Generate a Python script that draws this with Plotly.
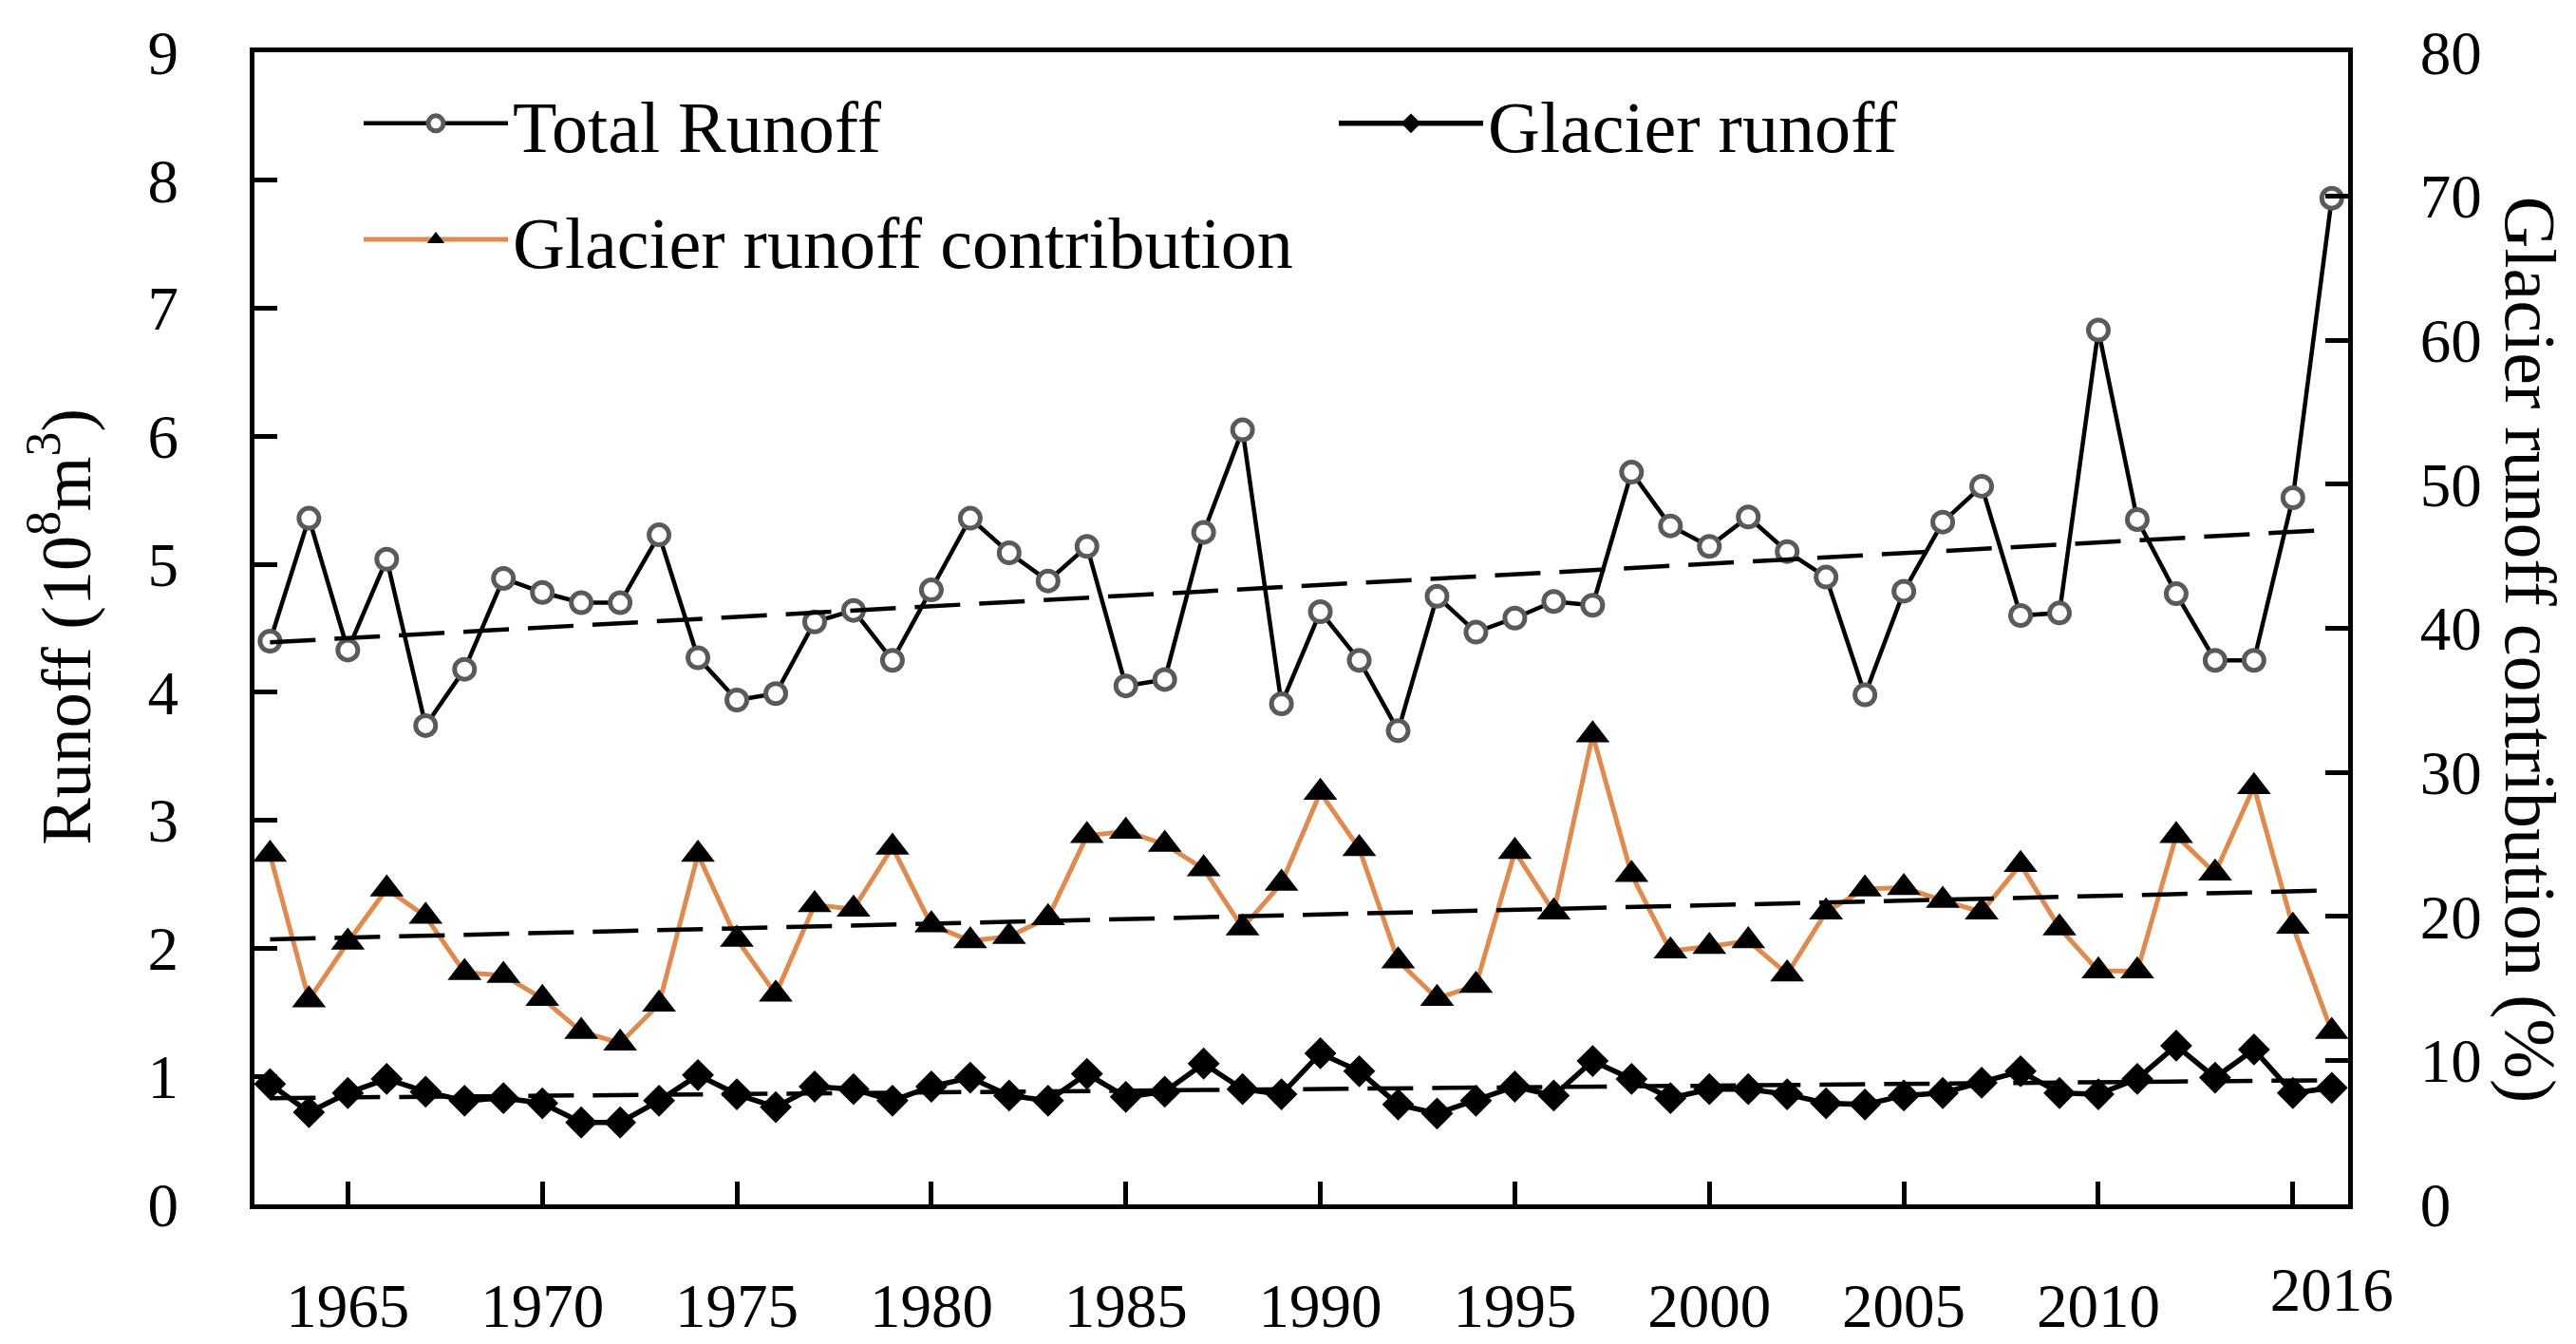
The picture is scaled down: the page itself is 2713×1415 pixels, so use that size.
import plotly.graph_objects as go

# ---------------- data ----------------
years = list(range(1963, 2017))

total_runoff = [4.40, 5.36, 4.33, 5.04, 3.74, 4.18, 4.89, 4.78, 4.70, 4.70,
                5.23, 4.27, 3.94, 3.99, 4.55, 4.64, 4.25, 4.80, 5.36, 5.09,
                4.87, 5.14, 4.05, 4.10, 5.25, 6.05, 3.91, 4.63, 4.25, 3.70,
                4.75, 4.47, 4.58, 4.71, 4.68, 5.72, 5.30, 5.14, 5.37, 5.10,
                4.90, 3.98, 4.79, 5.33, 5.61, 4.60, 4.62, 6.83, 5.35, 4.77,
                4.25, 4.25, 5.52, 7.86]

glacier_runoff = [0.94, 0.72, 0.87, 0.98, 0.88, 0.81, 0.83, 0.79, 0.64, 0.64,
                  0.81, 1.01, 0.86, 0.76, 0.92, 0.90, 0.81, 0.92, 0.99, 0.85,
                  0.81, 1.02, 0.84, 0.88, 1.10, 0.90, 0.86, 1.18, 1.04, 0.78,
                  0.71, 0.81, 0.92, 0.85, 1.12, 0.98, 0.83, 0.90, 0.90, 0.86,
                  0.79, 0.78, 0.85, 0.87, 0.95, 1.04, 0.87, 0.86, 0.98, 1.24,
                  0.99, 1.21, 0.87, 0.91]

glacier_contribution = [24.3, 14.2, 18.2, 21.9, 20.0, 16.1, 15.9, 14.3, 12.0, 11.2,
                        13.9, 24.3, 18.4, 14.6, 20.8, 20.5, 24.8, 19.4, 18.3, 18.6,
                        19.9, 25.6, 25.9, 25.0, 23.3, 19.2, 22.3, 28.6, 24.7, 16.9,
                        14.3, 15.2, 24.5, 20.3, 32.6, 22.9, 17.6, 17.9, 18.3, 16.0,
                        20.3, 21.9, 22.0, 21.1, 20.3, 23.6, 19.2, 16.2, 16.2, 25.6,
                        23.0, 29.0, 19.3, 12.0]

# linear trend lines (end points)
trend_years = [1963, 2016]
total_trend = [4.39, 5.27]
glacier_trend = [0.83, 0.97]
contribution_trend = [18.4, 21.8]

x_tick_vals = [1965, 1970, 1975, 1980, 1985, 1990, 1995, 2000, 2005, 2010, 2015]
x_tick_text = ["1965", "1970", "1975", "1980", "1985", "1990", "1995", "2000",
               "2005", "2010", " "]
end_tick_vals = [2016]
end_tick_text = ["2016"]
left_ticks = [0, 1, 2, 3, 4, 5, 6, 7, 8, 9]
right_ticks = [0, 10, 20, 30, 40, 50, 60, 70, 80]

# ---------------- style ----------------
FONT = "Liberation Serif, Times New Roman, serif"
ORANGE = "#DF8A4E"
GREY = "#5a5a5a"
TICK_FONT = dict(family=FONT, size=65, color="black")
LEG_FONT = dict(family=FONT, size=76, color="black")
X_RANGE = [1962.6, 2016.42]

fig = go.Figure()

fig.add_trace(go.Scatter(
    x=years, y=total_runoff, name="Total Runoff", mode="lines+markers",
    line=dict(color="black", width=4.5),
    marker=dict(symbol="circle", size=21, color="white",
                line=dict(color=GREY, width=5)),
    legend="legend"))

fig.add_trace(go.Scatter(
    x=years, y=glacier_runoff, name="Glacier runoff", mode="lines+markers",
    line=dict(color="black", width=5.5),
    marker=dict(symbol="diamond", size=26, color="black"),
    legend="legend2"))

fig.add_trace(go.Scatter(
    x=years, y=glacier_contribution, name="Glacier runoff contribution",
    mode="lines+markers", yaxis="y2",
    line=dict(color=ORANGE, width=5),
    marker=dict(symbol="triangle-up", size=31, color="black"),
    legend="legend3"))

DASH = "48px,20px"
fig.add_trace(go.Scatter(x=trend_years, y=total_trend, mode="lines", xaxis="x2",
                         line=dict(color="black", width=4.5, dash=DASH),
                         showlegend=False, hoverinfo="skip"))
fig.add_trace(go.Scatter(x=trend_years, y=glacier_trend, mode="lines", xaxis="x2",
                         line=dict(color="black", width=4.5, dash=DASH),
                         showlegend=False, hoverinfo="skip"))
fig.add_trace(go.Scatter(x=trend_years, y=contribution_trend, mode="lines",
                         xaxis="x2", yaxis="y2",
                         line=dict(color="black", width=4.5, dash=DASH),
                         showlegend=False, hoverinfo="skip"))

L, R, T, B = 260, 248, 38, 115
W, H = 2713, 1415
PW, PH = W - L - R, H - T - B


def px_x(px):
    return (px - L) / PW


def px_y(py):
    return 1 - (py - T) / PH


leg_common = dict(font=LEG_FONT, bgcolor="rgba(0,0,0,0)", borderwidth=0,
                  xanchor="left", yanchor="middle", itemwidth=152,
                  orientation="h")

fig.update_layout(
    width=W, height=H,
    margin=dict(l=L, r=R, t=T, b=B),
    paper_bgcolor="white", plot_bgcolor="white",
    font=dict(family=FONT, color="black"),
    legend=dict(x=px_x(370), y=px_y(116), **leg_common),
    legend2=dict(x=px_x(1397), y=px_y(116), **leg_common),
    legend3=dict(x=px_x(370), y=px_y(243), **leg_common),
    xaxis=dict(range=X_RANGE, tickvals=x_tick_vals, ticktext=x_tick_text,
               ticks="inside", ticklen=24, tickwidth=4.5, tickcolor="black",
               showline=True, linewidth=4.5, linecolor="black", mirror=True,
               showgrid=False, zeroline=False, tickfont=TICK_FONT,
               ticklabelstandoff=46),
    xaxis2=dict(range=X_RANGE, overlaying="x", anchor="y", side="bottom",
                tickvals=end_tick_vals, ticktext=end_tick_text, ticks="",
                showline=False, showgrid=False, zeroline=False,
                tickfont=TICK_FONT, ticklabelstandoff=46),
    yaxis=dict(range=[0, 9], tickvals=left_ticks, ticks="inside", ticklen=24,
               tickwidth=4.5, tickcolor="black", showline=True, linewidth=5,
               linecolor="black", showgrid=False, zeroline=False,
               tickfont=TICK_FONT, ticklabelstandoff=62),
    yaxis2=dict(range=[0, 80], tickvals=right_ticks, overlaying="y",
                side="right", ticks="inside", ticklen=24, tickwidth=4.5,
                tickcolor="black", showline=True, linewidth=4.5,
                linecolor="black", showgrid=False, zeroline=False,
                tickfont=TICK_FONT, ticklabelstandoff=58),
    annotations=[
        dict(text="Runoff (10<sup>8</sup>m<sup>3</sup>)", textangle=-90,
             xref="paper", yref="paper", x=px_x(56), y=px_y(668),
             xanchor="center", yanchor="middle", showarrow=False,
             font=dict(family=FONT, size=74, color="black")),
        dict(text="Glacier runoff contribution (%)", textangle=90,
             xref="paper", yref="paper", x=px_x(2656), y=px_y(692),
             xanchor="center", yanchor="middle", showarrow=False,
             font=dict(family=FONT, size=76, color="black")),
    ],
)

fig.write_html("out.html")
